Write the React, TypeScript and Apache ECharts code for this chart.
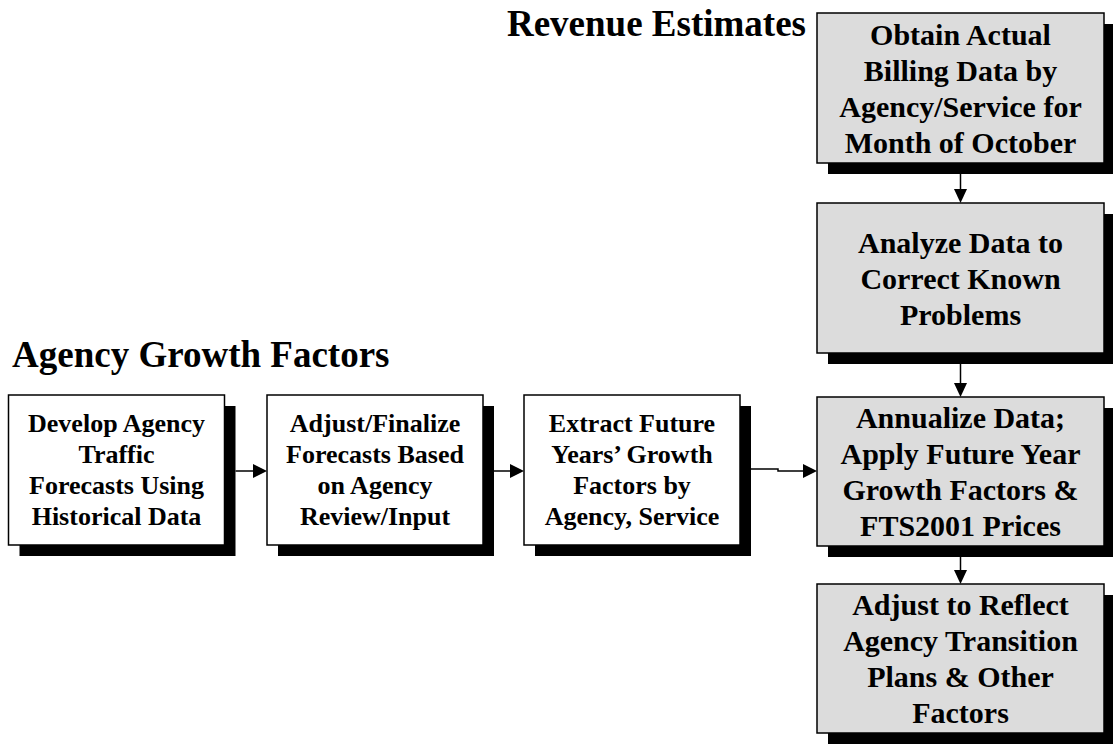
import React, { useEffect, useRef } from "react";
import * as echarts from "echarts";

// ---- content ----
const titleRevenue = "Revenue Estimates";
const titleAgency = "Agency Growth Factors";
const agencySteps: string[] = [
  "Develop Agency\nTraffic\nForecasts Using\nHistorical Data",
  "Adjust/Finalize\nForecasts Based\non Agency\nReview/Input",
  "Extract Future\nYears\u2019 Growth\nFactors by\nAgency, Service",
];
const revenueSteps: string[] = [
  "Obtain Actual\nBilling Data by\nAgency/Service for\nMonth of October",
  "Analyze Data to\nCorrect Known\nProblems",
  "Annualize Data;\nApply Future Year\nGrowth Factors &\nFTS2001 Prices",
  "Adjust to Reflect\nAgency Transition\nPlans & Other\nFactors",
];

// ---- layout ----
const FONT = '"Liberation Serif", "Times New Roman", Times, serif';
const SH = 11; // shadow offset
const whiteX = [8.5, 267, 524];
const whiteY = 395;
const whiteW = 216;
const whiteH = 150;
const grayX = 817;
const grayW = 287;
const grayY = [13, 203, 397, 584];
const grayH = [150, 150, 149, 149];
const arrowX = 960.5;
const arrowY = 471;

function box(x: number, y: number, w: number, h: number, fill: string, text: string, fs: number, lh: number) {
  return [
    { type: "rect", shape: { x: x + SH, y: y + SH, width: w, height: h }, style: { fill: "#000" }, silent: true },
    { type: "rect", shape: { x, y, width: w, height: h }, style: { fill, stroke: "#000", lineWidth: 1.5 }, silent: true },
    {
      type: "text",
      x: x + w / 2,
      y: y + h / 2,
      style: {
        text,
        fill: "#000",
        fontFamily: FONT,
        fontWeight: "bold",
        fontSize: fs,
        lineHeight: lh,
        align: "center",
        verticalAlign: "middle",
      },
      silent: true,
    },
  ];
}

function hArrow(x1: number, x2: number, y: number) {
  return [
    { type: "line", shape: { x1, y1: y, x2: x2 - 13, y2: y }, style: { stroke: "#000", lineWidth: 1.5 }, silent: true },
    { type: "polygon", shape: { points: [[x2 - 14, y - 7], [x2, y], [x2 - 14, y + 7]] }, style: { fill: "#000" }, silent: true },
  ];
}

function vArrow(x: number, y1: number, y2: number) {
  return [
    { type: "line", shape: { x1: x, y1, x2: x, y2: y2 - 12 }, style: { stroke: "#000", lineWidth: 1.5 }, silent: true },
    { type: "polygon", shape: { points: [[x - 6.5, y2 - 14], [x, y2], [x + 6.5, y2 - 14]] }, style: { fill: "#000" }, silent: true },
  ];
}

export default function App() {
  const ref = useRef<HTMLDivElement>(null);
  useEffect(() => {
    if (!ref.current) return;
    const chart = echarts.init(ref.current, undefined, { renderer: "svg" });
    const elements: any[] = [];

    elements.push({
      type: "text",
      x: 806,
      y: 5,
      style: { text: titleRevenue, fill: "#000", fontFamily: FONT, fontWeight: "bold", fontSize: 37, align: "right", verticalAlign: "top" },
    });
    elements.push({
      type: "text",
      x: 12,
      y: 336,
      style: { text: titleAgency, fill: "#000", fontFamily: FONT, fontWeight: "bold", fontSize: 37, align: "left", verticalAlign: "top" },
    });

    agencySteps.forEach((t, i) => {
      elements.push(...box(whiteX[i], whiteY, whiteW, whiteH, "#ffffff", t, 26, 31));
    });
    revenueSteps.forEach((t, i) => {
      elements.push(...box(grayX, grayY[i], grayW, grayH[i], "#dcdcdc", t, 30, 36));
    });

    // horizontal arrows
    elements.push(...hArrow(whiteX[0] + whiteW + SH, whiteX[1], arrowY));
    elements.push(...hArrow(whiteX[1] + whiteW + SH, whiteX[2], arrowY));
    elements.push({
      type: "polyline",
      shape: { points: [[whiteX[2] + whiteW + SH, arrowY - 2], [778, arrowY - 2], [778, arrowY], [grayX - 13, arrowY]] },
      style: { stroke: "#000", lineWidth: 1.5, fill: "none" },
      silent: true,
    });
    elements.push({ type: "polygon", shape: { points: [[grayX - 14, arrowY - 7], [grayX, arrowY], [grayX - 14, arrowY + 7]] }, style: { fill: "#000" }, silent: true });

    // vertical arrows
    for (let i = 0; i < grayY.length - 1; i++) {
      elements.push(...vArrow(arrowX, grayY[i] + grayH[i], grayY[i + 1]));
    }

    chart.setOption({
      animation: false,
      backgroundColor: "#ffffff",
      graphic: { elements },
    });
    return () => chart.dispose();
  }, []);
  return <div ref={ref} style={{ position: "fixed", left: 0, top: 0, width: 1113, height: 745 }} />;
}
